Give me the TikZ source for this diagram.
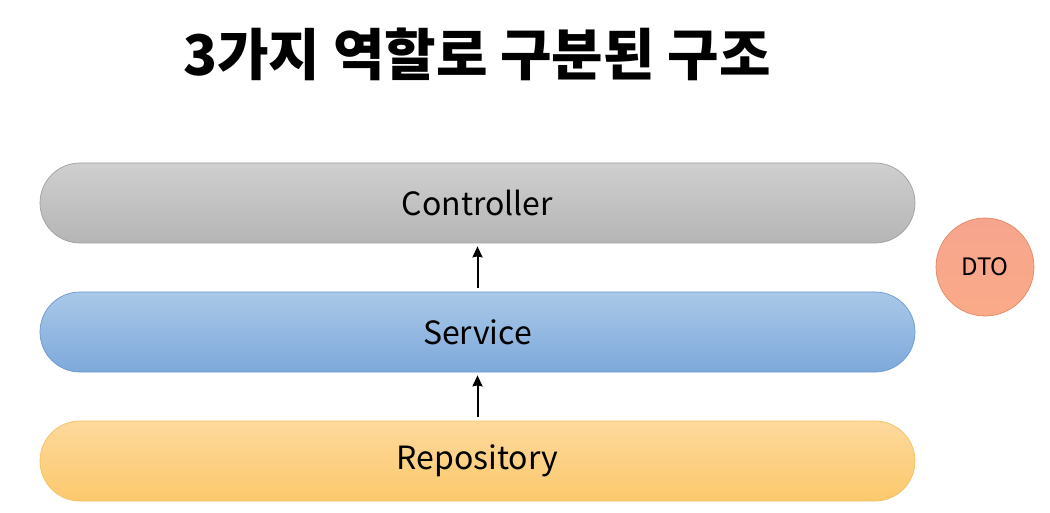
\documentclass[tikz,border=0pt]{standalone}
\usepackage{fontspec}
\setmainfont{Noto Sans CJK KR}
\usetikzlibrary{arrows.meta}
\definecolor{ctrlTop}{HTML}{CFCFCF}
\definecolor{ctrlBot}{HTML}{B5B5B5}
\definecolor{ctrlLine}{HTML}{A0A0A0}
\definecolor{servTop}{HTML}{AAC8E8}
\definecolor{servBot}{HTML}{7DA9DB}
\definecolor{servLine}{HTML}{6A98CE}
\definecolor{repoTop}{HTML}{FDD99C}
\definecolor{repoBot}{HTML}{FCC96C}
\definecolor{repoLine}{HTML}{F3C060}
\definecolor{dtoTop}{HTML}{F7A48E}
\definecolor{dtoBot}{HTML}{FAAA88}
\definecolor{dtoLine}{HTML}{E08A66}
\begin{document}
\begin{tikzpicture}[x=1pt,y=-1pt,
  layerbox/.style={minimum width=875pt, minimum height=80pt, rounded corners=40pt,
    inner sep=0pt, line width=0.7pt, font=\fontsize{32}{36}\selectfont},
  ctrlbox/.style={layerbox, draw=ctrlLine, top color=ctrlTop, bottom color=ctrlBot},
  servbox/.style={layerbox, draw=servLine, top color=servTop, bottom color=servBot},
  repobox/.style={layerbox, draw=repoLine, top color=repoTop, bottom color=repoBot},
  dtocircle/.style={circle, minimum size=98pt, inner sep=0pt, line width=0.7pt,
    draw=dtoLine, top color=dtoTop, bottom color=dtoBot, font=\fontsize{24}{28}\selectfont},
  uparrow/.style={-{Stealth[length=11pt,width=10pt,inset=1pt]}, line width=2pt, shorten <=4pt, shorten >=3pt},
  titletext/.style={font=\fontsize{56}{60}\selectfont\bfseries}
]
\useasboundingbox (0,0) rectangle (1050,513);
\fill[white] (0,0) rectangle (1050,513);
\node[titletext] (title) at (477,54) {3가지 역할로 구분된 구조};
\node[ctrlbox] (controller) at (477.5,203) {Controller};
\node[servbox] (service) at (477.5,332) {Service};
\node[repobox] (repository) at (477.5,461) {\raisebox{-2pt}{Repository}};
\node[dtocircle] (dto) at (985,267) {DTO};
\draw[uparrow] (service.north) -- (controller.south);
\draw[uparrow] (repository.north) -- (service.south);
\end{tikzpicture}
\end{document}
